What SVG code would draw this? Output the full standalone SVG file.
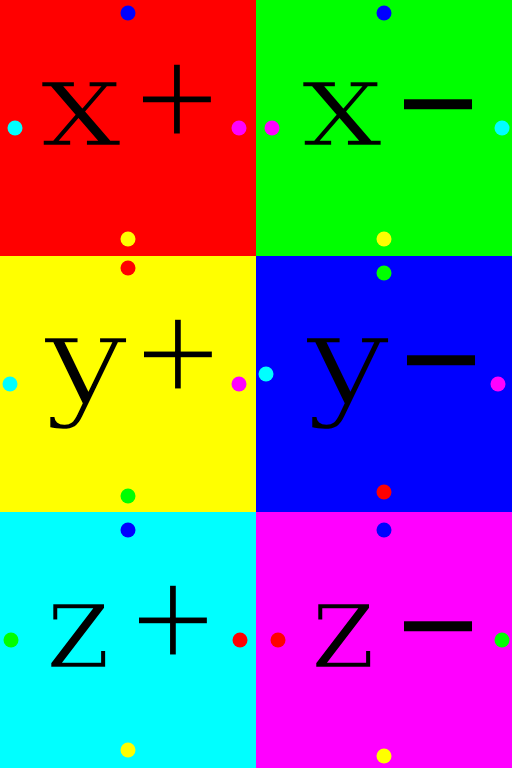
<svg xmlns="http://www.w3.org/2000/svg" width="512" height="768" viewBox="0 0 512 768">
<style>
.lbl{font-family:"DejaVu Serif","Liberation Serif",serif;fill:#000;stroke-width:2.5px}
.g{font-size:126px}
.s{font-size:150px;font-family:"Liberation Mono",monospace;stroke-width:5px}
.m{font-size:140px;font-family:"Liberation Mono",monospace;stroke-width:0}
#face-px .lbl{stroke:#ff0000}
#face-nx .lbl{stroke:#00ff00}
#face-py .lbl{stroke:#ffff00}
#face-ny .lbl{stroke:#0000ff}
#face-pz .lbl{stroke:#00ffff}
#face-nz .lbl{stroke:#ff00ff}
</style>
<g id="face-px"><rect x="0" y="0" width="256" height="256" fill="#ff0000"/>
<text class="lbl"><tspan class="g" x="39" y="146" textLength="84" lengthAdjust="spacingAndGlyphs">x</tspan><tspan class="s" x="132" y="149">+</tspan></text>
<circle cx="128" cy="13" r="7.5" fill="#0000ff"/><circle cx="15" cy="128" r="7.5" fill="#00ffff"/><circle cx="239" cy="128" r="7.5" fill="#ff00ff"/><circle cx="128" cy="239" r="7.5" fill="#ffff00"/></g>
<g id="face-nx"><rect x="256" y="0" width="256" height="256" fill="#00ff00"/>
<text class="lbl"><tspan class="g" x="300" y="146" textLength="84" lengthAdjust="spacingAndGlyphs">x</tspan><tspan class="m" x="396" y="151">−</tspan></text>
<circle cx="384" cy="13" r="7.5" fill="#0000ff"/><circle cx="272" cy="128" r="7.5" fill="#ff00ff"/><circle cx="502" cy="128" r="7.5" fill="#00ffff"/><circle cx="384" cy="239" r="7.5" fill="#ffff00"/></g>
<g id="face-py"><rect x="0" y="256" width="256" height="256" fill="#ffff00"/>
<text class="lbl"><tspan class="g" x="44" y="402" textLength="84" lengthAdjust="spacingAndGlyphs">y</tspan><tspan class="s" x="133" y="404">+</tspan></text>
<circle cx="128" cy="268" r="7.5" fill="#ff0000"/><circle cx="10" cy="384" r="7.5" fill="#00ffff"/><circle cx="239" cy="384" r="7.5" fill="#ff00ff"/><circle cx="128" cy="496" r="7.5" fill="#00ff00"/></g>
<g id="face-ny"><rect x="256" y="256" width="256" height="256" fill="#0000ff"/>
<text class="lbl"><tspan class="g" x="306" y="402" textLength="84" lengthAdjust="spacingAndGlyphs">y</tspan><tspan class="m" x="399" y="407">−</tspan></text>
<circle cx="384" cy="273" r="7.5" fill="#00ff00"/><circle cx="266" cy="374" r="7.5" fill="#00ffff"/><circle cx="498" cy="384" r="7.5" fill="#ff00ff"/><circle cx="384" cy="492" r="7.5" fill="#ff0000"/></g>
<g id="face-pz"><rect x="0" y="512" width="256" height="256" fill="#00ffff"/>
<text class="lbl"><tspan class="g" x="45" y="668" textLength="66" lengthAdjust="spacingAndGlyphs">z</tspan><tspan class="s" x="128" y="670">+</tspan></text>
<circle cx="128" cy="530" r="7.5" fill="#0000ff"/><circle cx="11" cy="640" r="7.5" fill="#00ff00"/><circle cx="240" cy="640" r="7.5" fill="#ff0000"/><circle cx="128" cy="750" r="7.5" fill="#ffff00"/></g>
<g id="face-nz"><rect x="256" y="512" width="256" height="256" fill="#ff00ff"/>
<text class="lbl"><tspan class="g" x="310" y="668" textLength="66" lengthAdjust="spacingAndGlyphs">z</tspan><tspan class="m" x="396" y="673">−</tspan></text>
<circle cx="384" cy="530" r="7.5" fill="#0000ff"/><circle cx="278" cy="640" r="7.5" fill="#ff0000"/><circle cx="502" cy="640" r="7.5" fill="#00ff00"/><circle cx="384" cy="756" r="7.5" fill="#ffff00"/></g>
</svg>
